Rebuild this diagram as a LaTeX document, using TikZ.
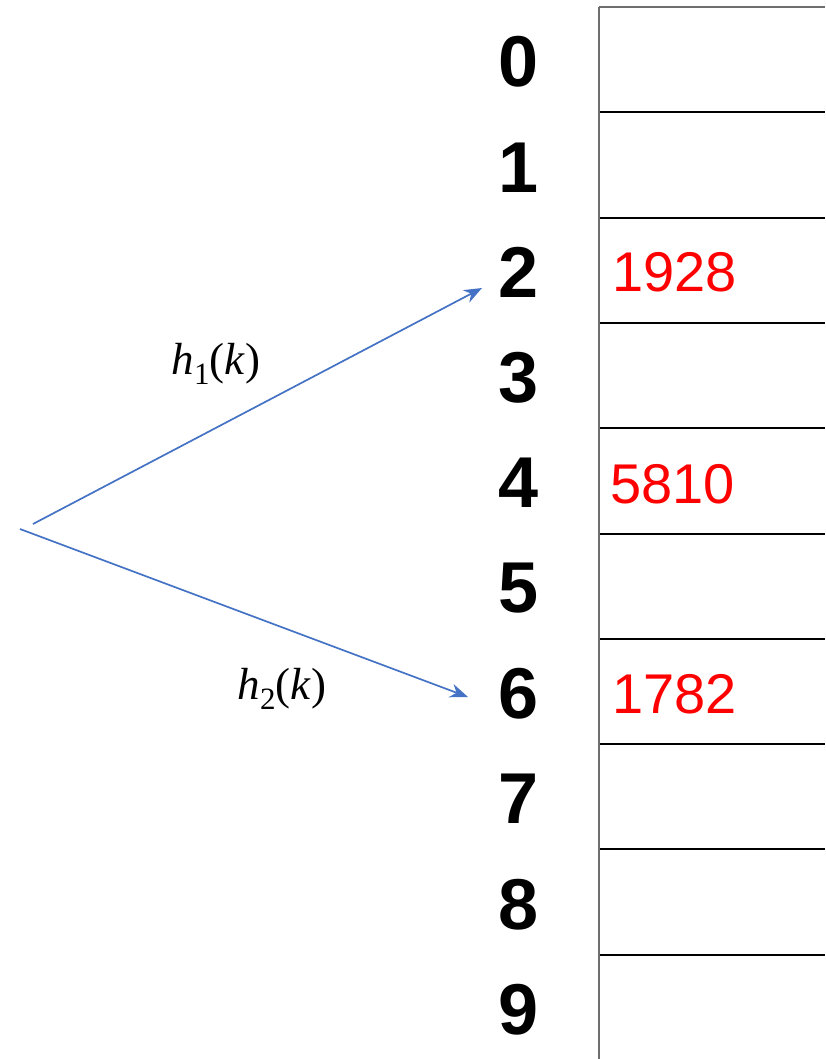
\documentclass[tikz,border=0pt]{standalone}
\usepackage{fontspec}
\setmainfont{Liberation Serif}
\setsansfont{Liberation Sans}
\usepackage{tikz}
\usetikzlibrary{arrows.meta, positioning}

\definecolor{hashblue}{RGB}{68,114,196}
\definecolor{tablegray}{RGB}{110,110,110}

\newcommand{\hfun}[1]{\textit{h}\raisebox{-10pt}{\fontsize{31}{31}\selectfont #1}(\textit{k})}

\begin{document}
\begin{tikzpicture}[
    x=1pt, y=-1pt,
    index/.style={font=\sffamily\bfseries\fontsize{72}{72}\selectfont, inner sep=0pt},
    key/.style={font=\sffamily\fontsize{56}{56}\selectfont, text=red, anchor=west, inner sep=0pt},
    hashlabel/.style={font=\fontsize{45}{45}\selectfont, inner sep=0pt},
    arrow/.style={line width=1.7pt, color=hashblue, -{Stealth[length=18pt, width=14pt]}}
]
\useasboundingbox (0,0) rectangle (825,1059);

% table lines
\draw[tablegray, line width=1.5pt] (599,7) -- (825,7);
\foreach \i in {1,...,9}
    \draw[black, line width=2pt] (599,7+105.3*\i) -- (825,7+105.3*\i);
\draw[tablegray, line width=1.8pt] (599,7) -- (599,1059);

% slot indices
\foreach \i in {0,...,9}
    \node (idx\i) [index] at (519,62+105.3*\i) {\i};

% stored keys
\node (key2) [key] at (612,272) {1928};
\node (key4) [key] at (610,484) {5810};
\node (key6) [key] at (612,694) {1782};

% hash functions
\coordinate (src1) at (33,524);
\coordinate (src2) at (20,529);
\coordinate (tip1) at (482,288);
\coordinate (tip2) at (468,697);
\draw [arrow] (src1) -- (tip1);
\draw [arrow] (src2) -- (tip2);
\node (h1) [hashlabel] at (216,364) {\hfun{1}};
\node (h2) [hashlabel] at (282,689) {\hfun{2}};

\end{tikzpicture}
\end{document}
